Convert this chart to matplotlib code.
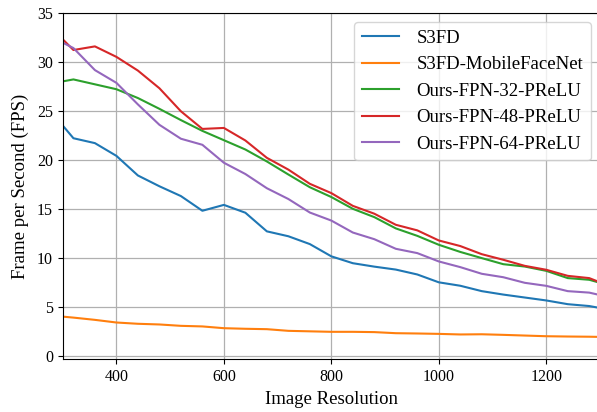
import matplotlib
matplotlib.use("Agg")
import matplotlib.pyplot as plt

resolution = [300, 320, 360, 400, 440, 480, 520, 560, 600, 640, 680, 720, 760, 800,
              840, 880, 920, 960, 1000, 1040, 1080, 1120, 1160, 1200, 1240, 1280, 1300]
s3fd = [23.5, 22.2, 21.7, 20.4, 18.4, 17.3, 16.3, 14.8, 15.4, 14.6, 12.7, 12.2, 11.4, 10.15,
        9.45, 9.1, 8.8, 8.3, 7.5, 7.15, 6.6, 6.25, 5.95, 5.65, 5.27, 5.08, 4.88]
s3fd_mobile = [4.0, 3.9, 3.67, 3.4, 3.27, 3.2, 3.06, 3.0, 2.82, 2.76, 2.72, 2.55, 2.5, 2.45,
               2.45, 2.42, 2.31, 2.28, 2.24, 2.18, 2.2, 2.14, 2.07, 2.0, 1.97, 1.95, 1.93]
fpn32 = [28.0, 28.2, 27.7, 27.2, 26.3, 25.2, 24.05, 22.95, 22.0, 21.05, 19.83, 18.5, 17.2, 16.2,
         15.0, 14.15, 13.0, 12.24, 11.33, 10.6, 9.97, 9.35, 9.11, 8.67, 7.93, 7.76, 7.45]
fpn48 = [32.3, 31.2, 31.57, 30.5, 29.1, 27.3, 24.95, 23.15, 23.25, 21.97, 20.2, 19.0, 17.55, 16.6,
         15.3, 14.5, 13.37, 12.8, 11.77, 11.2, 10.37, 9.8, 9.18, 8.78, 8.16, 7.93, 7.5]
fpn64 = [31.95, 31.4, 29.15, 27.85, 25.65, 23.57, 22.15, 21.53, 19.7, 18.55, 17.1, 16.0, 14.62, 13.8,
         12.58, 11.9, 10.92, 10.48, 9.63, 9.05, 8.37, 8.02, 7.45, 7.14, 6.6, 6.45, 6.2]

series = [
    ("S3FD", s3fd, "#1f77b4"),
    ("S3FD-MobileFaceNet", s3fd_mobile, "#ff7f0e"),
    ("Ours-FPN-32-PReLU", fpn32, "#2ca02c"),
    ("Ours-FPN-48-PReLU", fpn48, "#d62728"),
    ("Ours-FPN-64-PReLU", fpn64, "#9467bd"),
]

plt.rcParams['font.family'] = ['Liberation Serif', 'DejaVu Serif']

fig = plt.figure(figsize=(5.97, 4.12), dpi=100)
ax = fig.add_axes([0.105, 0.128, 0.9, 0.841])

for name, vals, col in series:
    ax.plot(resolution, vals, color=col, linewidth=1.5, label=name)

ax.set_xlim(300, 1300)
ax.set_ylim(-0.35, 35)
ax.set_xticks([400, 600, 800, 1000, 1200])
ax.set_yticks([0, 5, 10, 15, 20, 25, 30, 35])
ax.tick_params(labelsize=11.5)
ax.grid(True, color="#b0b0b0", linewidth=0.9)
ax.set_axisbelow(True)
ax.set_xlabel("Image Resolution", fontsize=13.5)
ax.set_ylabel("Frame per Second (FPS)", fontsize=13.5, labelpad=6)
ax.legend(loc="upper right", fontsize=13.5, labelspacing=0.5, handletextpad=0.9)

fig.savefig("out.png", dpi=100)
